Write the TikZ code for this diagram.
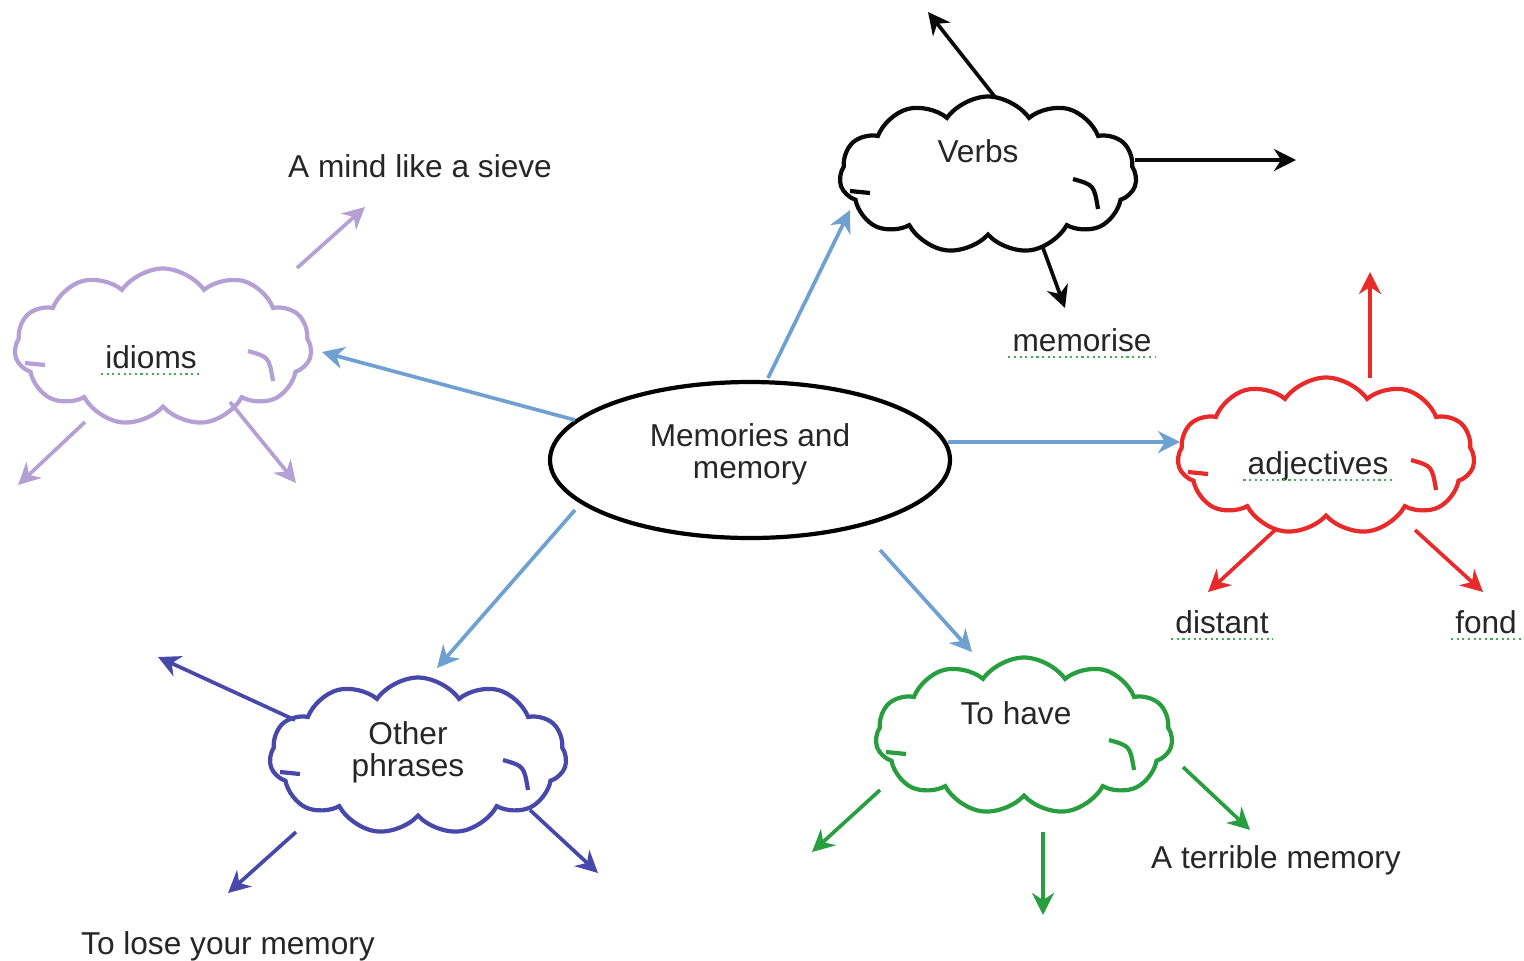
\documentclass[tikz,border=0pt]{standalone}
\usepackage{fontspec}
\setmainfont{Liberation Sans}
\usetikzlibrary{arrows.meta,shapes.geometric,shapes.symbols,calc}

\definecolor{hubblue}{RGB}{110,160,210}
\definecolor{idiomlilac}{RGB}{180,160,212}
\definecolor{verbblack}{RGB}{10,10,10}
\definecolor{adjred}{RGB}{232,42,42}
\definecolor{phrasenavy}{RGB}{72,72,170}
\definecolor{havegreen}{RGB}{40,158,62}
\definecolor{spellgreen}{RGB}{70,170,90}

\newcommand{\mapfont}{\fontsize{9}{9.2}\selectfont}

\begin{document}
\begin{tikzpicture}[
    x=0.1mm, y=-0.1mm,
    hub/.style={ellipse, draw=black, line width=1.2pt, minimum width=40mm,
        minimum height=15.6mm, inner sep=0pt},
    puff/.style={cloud, cloud puffs=11, cloud puff arc=110, aspect=1.9,
        minimum width=29.7mm, minimum height=15.7mm, inner sep=0pt,
        line width=1.2pt},
    branch/.style={-{Stealth[length=2.2mm, width=2.2mm, inset=0.7mm]},
        line width=1.05pt},
    word/.style={font=\mapfont, text=black!85, inner sep=1pt, align=center},
    spell/.style={spellgreen, densely dotted, line width=0.6pt},
]

\useasboundingbox (0,0) rectangle (1524,960);

% ── Centre ──────────────────────────────────────────────────
\node[hub] (mem) at (750,460) {};
\node[word] (memT) at (750,454) {Memories and\\memory};

% ── Clouds ──────────────────────────────────────────────────
\node[puff, draw=idiomlilac]  (idioms) at (163,347) {};
\node[puff, draw=verbblack]   (verbs)  at (988,175) {};
\node[puff, draw=adjred]      (adj)    at (1326,456) {};
\node[puff, draw=phrasenavy]  (other)  at (418,756) {};
\node[puff, draw=havegreen]   (have)   at (1024,736) {};

% inner hooks of each cloud
\foreach \c/\col in {idioms/idiomlilac, verbs/verbblack, adj/adjred,
                     other/phrasenavy, have/havegreen} {
    \draw[\col, line width=1.2pt]
        ($(\c)+(85,4)$) .. controls ($(\c)+(106,10)$) .. ($(\c)+(110,34)$);
    \draw[\col, line width=1.2pt] ($(\c)+(-138,16)$) -- ($(\c)+(-118,18)$);
}

% ── Cloud labels ────────────────────────────────────────────
\node[word] (idiomsT) at (151,357) {idioms};
\node[word] (verbsT)  at (978,151) {Verbs};
\node[word] (adjT)    at (1318,466) {adjectives};
\node[word] (otherT)  at (408,752) {Other\\phrases};
\node[word] (haveT)   at (1016,713) {To have};

% ── Leaf words ──────────────────────────────────────────────
\node[word] (sieve)   at (420,166) {A mind like a sieve};
\node[word] (memor)   at (1082,340) {memorise};
\node[word] (distant) at (1222,622) {distant};
\node[word] (fond)    at (1486,622) {fond};
\node[word] (terr)    at (1276,860) {A terrible memory};
\node[word] (lose)    at (228,946) {To lose your memory};

% spell-check marks under some words
\foreach \w in {idiomsT, memor, adjT, distant, fond}
    \draw[spell] ([yshift=-1.6pt]\w.base west) -- ([yshift=-1.6pt]\w.base east);

% ── Spokes from the centre ──────────────────────────────────
\draw[branch, hubblue] ($(mem)+(-175,-40)$) -- ($(idioms)+(159,5)$);
\draw[branch, hubblue] ($(mem)+(18,-82)$)   -- ($(verbs)+(-138,35)$);
\draw[branch, hubblue] ($(mem)+(198,-18)$)  -- ($(adj)+(-146,-14)$);
\draw[branch, hubblue] ($(mem)+(-175,50)$)  -- ($(other)+(19,-88)$);
\draw[branch, hubblue] ($(mem)+(130,90)$)   -- ($(have)+(-52,-84)$);

% ── Free ends of the cloud branches ─────────────────────────
\coordinate (idA) at (365,207);
\coordinate (idB) at (18,485);
\coordinate (idC) at (296,483);
\coordinate (vbA) at (928,12);
\coordinate (vbB) at (1296,160);
\coordinate (vbC) at (1065,308);
\coordinate (adA) at (1370,272);
\coordinate (adB) at (1208,592);
\coordinate (adC) at (1483,592);
\coordinate (otA) at (158,657);
\coordinate (otB) at (228,893);
\coordinate (otC) at (598,873);
\coordinate (hvA) at (812,852);
\coordinate (hvB) at (1043,915);
\coordinate (hvC) at (1250,830);

% ── Cloud branches ──────────────────────────────────────────
\foreach \dx/\dy/\tip in {134/-79/idA, -78/75/idB, 67/55/idC}
    \draw[branch, idiomlilac] ($(idioms)+(\dx,\dy)$) -- (\tip);
\foreach \dx/\dy/\tip in {7/-78/vbA, 147/-15/vbB, 55/73/vbC}
    \draw[branch, verbblack] ($(verbs)+(\dx,\dy)$) -- (\tip);
\foreach \dx/\dy/\tip in {44/-78/adA, -51/74/adB, 89/74/adC}
    \draw[branch, adjred] ($(adj)+(\dx,\dy)$) -- (\tip);
\foreach \dx/\dy/\tip in {-123/-36/otA, -122/76/otB, 112/54/otC}
    \draw[branch, phrasenavy] ($(other)+(\dx,\dy)$) -- (\tip);
\foreach \dx/\dy/\tip in {-144/54/hvA, 19/96/hvB, 159/31/hvC}
    \draw[branch, havegreen] ($(have)+(\dx,\dy)$) -- (\tip);

\end{tikzpicture}
\end{document}
